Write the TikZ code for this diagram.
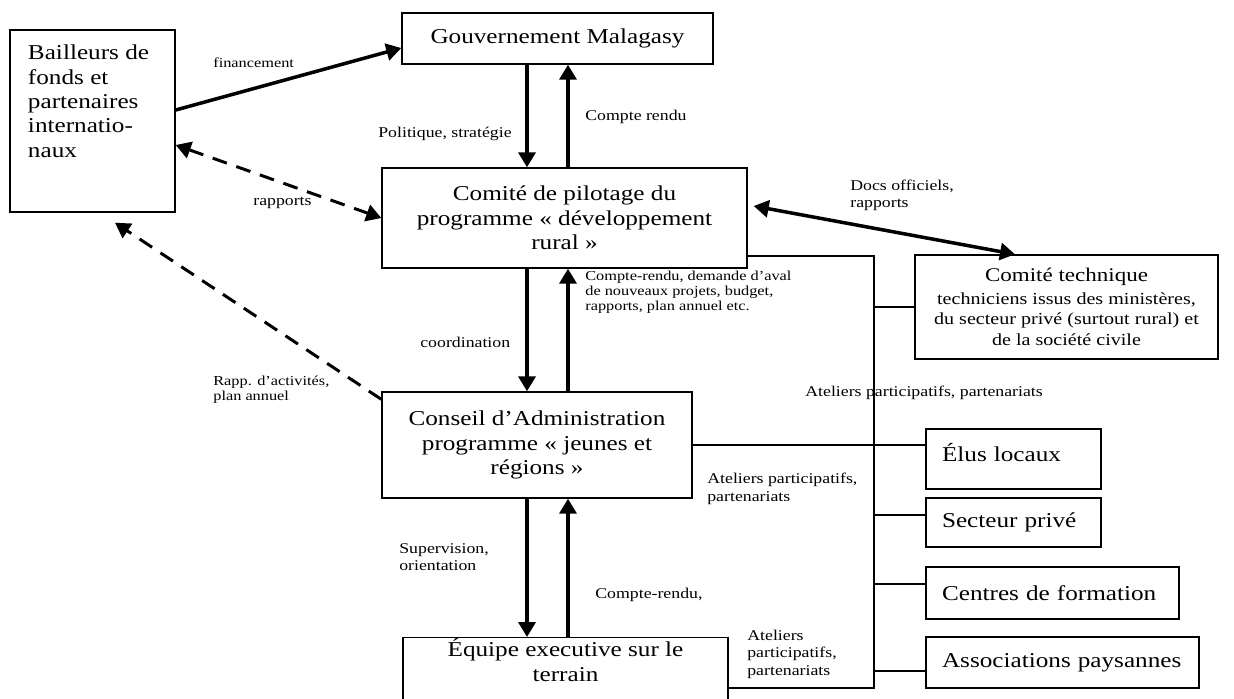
\documentclass[tikz,border=0pt]{standalone}
\usepackage{fontspec}
\setmainfont{Liberation Serif}[FakeStretch=1.19]
\usetikzlibrary{arrows.meta, positioning, calc}

\begin{document}
\begin{tikzpicture}[
    >={Triangle[length=3mm, width=3.4mm]},
    box/.style={draw, line width=0.8pt, inner sep=0pt,
                font=\fontsize{12.05}{13.9}\selectfont},
    sidebox/.style={box, align=left, inner xsep=0.32cm, minimum height=1cm},
    lab/.style={inner sep=0pt, anchor=west, align=left,
                font=\fontsize{8.5}{10}\selectfont},
    labsm/.style={lab, font=\fontsize{7.8}{8.7}\selectfont},
    arr/.style={->, line width=2pt},
    dsh/.style={line width=1.7pt, dash pattern=on 0.3cm off 0.2cm},
    link/.style={line width=0.7pt}
]
    \useasboundingbox (0,0) rectangle (24.68,-13.96);

    \node[box, minimum width=3.3cm, minimum height=3.64cm] (bf) at (1.85,-2.42) {};
    \node[box, anchor=north west, align=left, draw=none] (bftxt)
        at ([xshift=0.36cm, yshift=-0.3cm]bf.north west)
        {Bailleurs de\\fonds et\\partenaires\\internatio-\\naux};
    \node[box, minimum width=6.22cm, minimum height=1.02cm] (gouv) at (11.15,-0.77)
        {Gouvernement Malagasy};
    \node[box, minimum width=7.3cm, minimum height=2cm, align=center] (pilot) at (11.29,-4.36)
        {Comité de pilotage du\\programme « développement\\rural »};
    \node[box, minimum width=6.06cm, minimum height=2.08cm, align=center] (ctech) at (21.33,-6.14)
        {{\fontsize{11}{13}\selectfont Comité technique}\\[-1pt]
         {\fontsize{9.6}{11.5}\selectfont techniciens issus des ministères,}\\[-2pt]
         {\fontsize{9.6}{11.5}\selectfont du secteur privé (surtout rural) et}\\[-2pt]
         {\fontsize{9.6}{11.5}\selectfont de la société civile}};
    \node[box, minimum width=6.2cm, minimum height=2.12cm, align=center] (conseil) at (10.74,-8.9)
        {Conseil d’Administration\\programme « jeunes et\\régions »};
    \node[box, minimum width=6.5cm, minimum height=1.26cm, anchor=north] (equipe) at (11.31,-12.74) {};
    \node[box, draw=none, anchor=north, align=center] (equipetxt)
        at ([yshift=-0.02cm]equipe.north) {Équipe executive sur le\\terrain};

    \node[sidebox, text width=2.86cm, minimum height=1.2cm, text depth=0.25cm] (elus) at (20.27,-9.18) {Élus locaux};
    \node[sidebox, text width=2.86cm, minimum height=0.98cm] (secteur) at (20.27,-10.45) {Secteur privé};
    \node[sidebox, text width=4.42cm, minimum height=1.04cm] (centres) at (21.05,-11.86) {Centres de formation};
    \node[sidebox, text width=4.82cm, minimum height=1.02cm] (assoc) at (21.25,-13.25) {Associations paysannes};

    \coordinate (colA) at (10.54,0);
    \coordinate (colB) at (11.36,0);
    \coordinate (sptop) at (17.48,-5.12);
    \coordinate (spbot) at (17.48,-13.76);

    \draw[arr] ([yshift=0.22cm]bf.east) -- ([yshift=-0.19cm]gouv.west);
    \draw[dsh, <->] ([yshift=-0.48cm]bf.east) -- (pilot.west);
    \draw[dsh, ->] ([yshift=-0.16cm]conseil.north west) -- ([xshift=0.45cm, yshift=-0.2cm]bf.south);
    \draw[arr, <->] ([xshift=0.12cm, yshift=0.24cm]pilot.east) -- ([xshift=-1.03cm]ctech.north);

    \draw[arr] (gouv.south -| colA) -- (pilot.north -| colA);
    \draw[arr] (pilot.north -| colB) -- (gouv.south -| colB);
    \draw[arr] (pilot.south -| colA) -- (conseil.north -| colA);
    \draw[arr] (conseil.north -| colB) -- (pilot.south -| colB);
    \draw[arr] (conseil.south -| colA) -- (equipe.north -| colA);
    \draw[arr] (equipe.north -| colB) -- (conseil.south -| colB);

    \draw[link] (pilot.east |- sptop) -- (sptop) -- (spbot) -- (equipe.east |- spbot);
    \draw[link] (sptop |- ctech.west) -- (ctech.west);
    \draw[link] (conseil.east) -- (conseil.east -| elus.west);
    \draw[link] ([yshift=0.15cm]secteur.west) -- ([yshift=0.15cm]secteur.west -| sptop);
    \draw[link] ([yshift=0.18cm]centres.west) -- ([yshift=0.18cm]centres.west -| sptop);
    \draw[link] ([yshift=-0.17cm]assoc.west) -- ([yshift=-0.17cm]assoc.west -| sptop);

    \node[labsm] (lfin) at (4.26,-1.26) {financement};
    \node[lab] (lpol) at (7.56,-2.68) {Politique, stratégie};
    \node[lab] (lcr) at (11.7,-2.34) {Compte rendu};
    \node[lab] (lrap) at (5.06,-4.06) {rapports};
    \node[lab] (ldocs) at (17.0,-3.91) {Docs officiels,\\rapports};
    \node[labsm] (lcrd) at (11.7,-5.84) {Compte-rendu, demande d’aval\\de nouveaux projets, budget,\\rapports, plan annuel etc.};
    \node[lab] (lcoord) at (8.4,-6.84) {coordination};
    \node[labsm] (lrapp) at (4.26,-7.8) {Rapp. d’activités,\\plan annuel};
    \node[lab] (lat1) at (16.1,-7.86) {Ateliers participatifs, partenariats};
    \node[lab] (lat2) at (14.14,-9.78) {Ateliers participatifs,\\partenariats};
    \node[lab] (lsup) at (7.98,-11.14) {Supervision,\\orientation};
    \node[lab] (lcre) at (11.9,-11.9) {Compte-rendu,};
    \node[lab] (lat3) at (14.94,-13.08) {Ateliers\\participatifs,\\partenariats};
\end{tikzpicture}
\end{document}
